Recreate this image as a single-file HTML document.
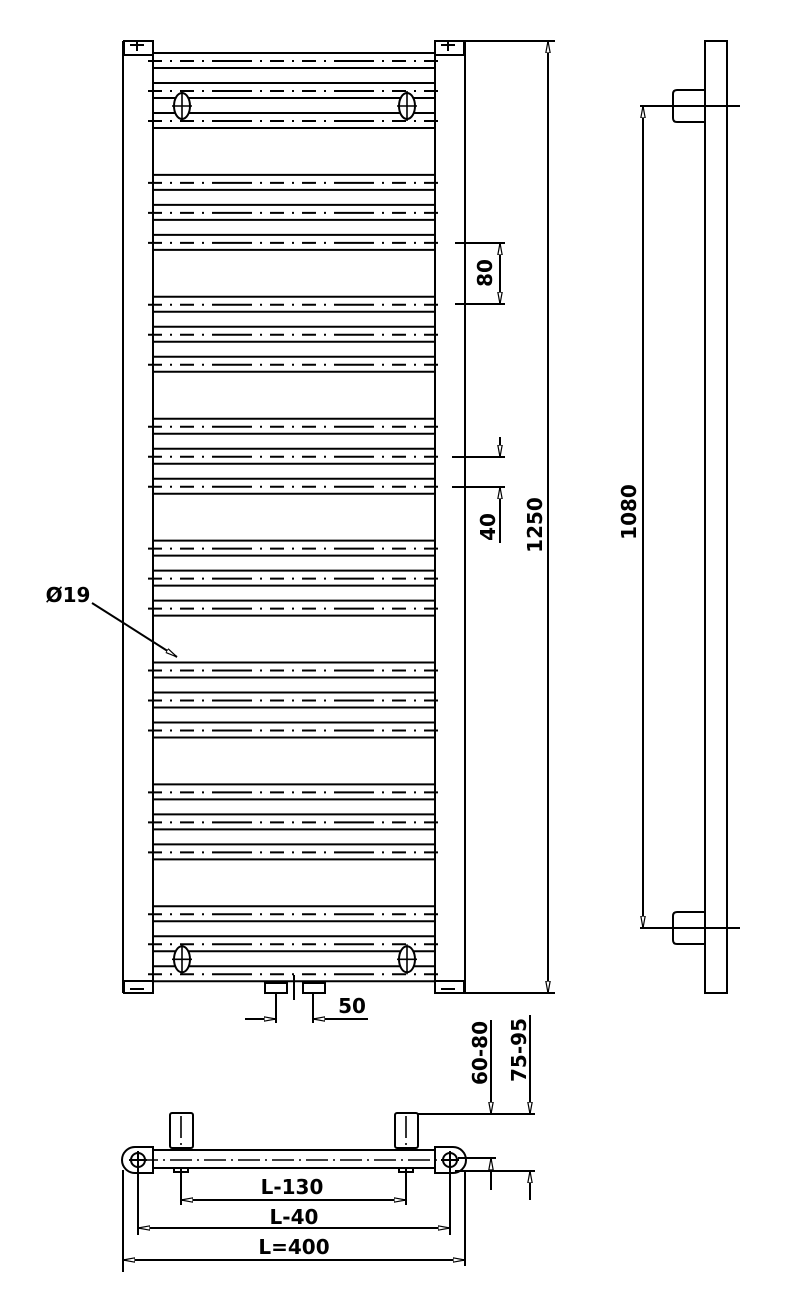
<!DOCTYPE html>
<html><head><meta charset="utf-8"><style>
html,body{margin:0;padding:0;background:#fff;width:809px;height:1297px;overflow:hidden}
svg text{font-family:"DejaVu Sans","Liberation Sans",sans-serif;font-weight:bold;font-size:20px;fill:#000}
</style></head><body>
<svg id="s" width="809" height="1297" viewBox="0 0 809 1297" xmlns="http://www.w3.org/2000/svg">
<defs>
<marker id="a" viewBox="0 0 12 6" refX="12" refY="3" markerWidth="12" markerHeight="6" orient="auto-start-reverse" markerUnits="userSpaceOnUse"><path d="M0,0.8 L12,3 L0,5.2 Z" fill="#fff" stroke="#000" stroke-width="1.2"/></marker>
</defs>
<g id="g" stroke="#000" stroke-width="2" fill="none">
<line x1="123" y1="41" x2="123" y2="993"/>
<line x1="153" y1="41" x2="153" y2="993"/>
<line x1="435" y1="41" x2="435" y2="993"/>
<line x1="465" y1="41" x2="465" y2="993"/>
<rect x="124" y="41" width="29" height="14"/><rect x="435" y="41" width="29" height="14"/>
<rect x="124" y="981" width="29" height="12"/><rect x="435" y="981" width="29" height="12"/>
<path d="M130,45 h14 M137,41 v10 M441,45 h14 M448,41 v10 M130,989 h14 M441,989 h14"/>
<line x1="465" y1="41" x2="555" y2="41"/>
<line x1="465" y1="993" x2="555" y2="993"/>
<line x1="548" y1="41" x2="548" y2="993" marker-start="url(#a)" marker-end="url(#a)"/>
<line x1="455" y1="243" x2="505" y2="243"/>
<line x1="455" y1="304" x2="505" y2="304"/>
<line x1="500" y1="243" x2="500" y2="304" marker-start="url(#a)" marker-end="url(#a)"/>
<line x1="452" y1="457" x2="505" y2="457"/>
<line x1="452" y1="487" x2="505" y2="487"/>
<line x1="500" y1="437" x2="500" y2="457" marker-end="url(#a)"/>
<line x1="500" y1="543" x2="500" y2="487" marker-end="url(#a)"/>
<line x1="92" y1="603" x2="177" y2="657" marker-end="url(#a)"/>
<rect x="265" y="983" width="22" height="10"/><rect x="303" y="983" width="22" height="10"/>
<line x1="294" y1="975" x2="294" y2="1000"/>
<line x1="276" y1="993" x2="276" y2="1023"/>
<line x1="313" y1="993" x2="313" y2="1023"/>
<line x1="245" y1="1019" x2="276" y2="1019" marker-end="url(#a)"/>
<line x1="368" y1="1019" x2="313" y2="1019" marker-end="url(#a)"/>
<rect x="705" y="41" width="22" height="952"/>
<path d="M705,90 h-28 q-4,0 -4,4 v24 q0,4 4,4 h28"/>
<path d="M705,912 h-28 q-4,0 -4,4 v24 q0,4 4,4 h28"/>
<line x1="640" y1="106" x2="740" y2="106"/>
<line x1="640" y1="928" x2="740" y2="928"/>
<line x1="643" y1="106" x2="643" y2="928" marker-start="url(#a)" marker-end="url(#a)"/>
<rect x="153" y="1150" width="282" height="18"/>
<path d="M153,1147 h-18 a13,13 0 0 0 0,26 h18 Z"/>
<path d="M435,1147 h18 a13,13 0 0 1 0,26 h-18 Z"/>
<circle cx="138" cy="1160" r="7"/><circle cx="450" cy="1160" r="7"/>
<path d="M129,1160 h18 M138,1151 v18 M441,1160 h18 M450,1151 v18"/>
<rect x="170" y="1113" width="23" height="35" rx="2"/><rect x="395" y="1113" width="23" height="35" rx="2"/>
<path d="M174,1168 v4 h14 v-4 M399,1168 v4 h14 v-4"/>
<line x1="181" y1="1168" x2="181" y2="1205"/><line x1="406" y1="1168" x2="406" y2="1205"/>
<line x1="138" y1="1168" x2="138" y2="1235"/><line x1="450" y1="1168" x2="450" y2="1235"/>
<line x1="123" y1="1170" x2="123" y2="1272"/><line x1="465" y1="1170" x2="465" y2="1266"/>
<line x1="181" y1="1200" x2="406" y2="1200" marker-start="url(#a)" marker-end="url(#a)"/>
<line x1="138" y1="1228" x2="450" y2="1228" marker-start="url(#a)" marker-end="url(#a)"/>
<line x1="123" y1="1260" x2="465" y2="1260" marker-start="url(#a)" marker-end="url(#a)"/>
<line x1="418" y1="1114" x2="535" y2="1114"/>
<line x1="455" y1="1171" x2="535" y2="1171"/>
<line x1="458" y1="1158" x2="496" y2="1158"/>
<line x1="491" y1="1020" x2="491" y2="1114" marker-end="url(#a)"/>
<line x1="491" y1="1190" x2="491" y2="1158" marker-end="url(#a)"/>
<line x1="530" y1="1015" x2="530" y2="1114" marker-end="url(#a)"/>
<line x1="530" y1="1200" x2="530" y2="1171" marker-end="url(#a)"/>
</g>
<g stroke="#000" stroke-width="1.6" stroke-dasharray="22,5,2,5" fill="none">
<line x1="136" y1="1160" x2="452" y2="1160"/>
<line x1="181" y1="1116" x2="181" y2="1145"/><line x1="406" y1="1116" x2="406" y2="1145"/>
</g>
<g id="rails"></g>
<text x="68" y="602" text-anchor="middle">Ø19</text>
<text x="352" y="1013" text-anchor="middle">50</text>
<text transform="translate(492,273) rotate(-90)" text-anchor="middle">80</text>
<text transform="translate(495,527) rotate(-90)" text-anchor="middle">40</text>
<text transform="translate(542,525) rotate(-90)" text-anchor="middle">1250</text>
<text transform="translate(636,512) rotate(-90)" text-anchor="middle">1080</text>
<text transform="translate(487,1053) rotate(-90)" text-anchor="middle">60-80</text>
<text transform="translate(526,1050) rotate(-90)" text-anchor="middle">75-95</text>
<text x="292" y="1194" text-anchor="middle">L-130</text>
<text x="294" y="1224" text-anchor="middle">L-40</text>
<text x="294" y="1254" text-anchor="middle">L=400</text>
</svg>
<script>
var g=document.getElementById('rails'),h='';
for(var k=0;k<8;k++){
 var y0=53+k*121.9;
 for(var r=0;r<3;r++){
  var a=y0+r*30;
  h+='<line x1="153" y1="'+a+'" x2="435" y2="'+a+'" stroke="#000" stroke-width="2"/>';
  h+='<line x1="153" y1="'+(a+15)+'" x2="435" y2="'+(a+15)+'" stroke="#000" stroke-width="2"/>';
  h+='<line x1="148" y1="'+(a+8)+'" x2="441" y2="'+(a+8)+'" stroke="#000" stroke-width="2" stroke-dasharray="14,8,2,8,14,8,2,8,40,8,2,8"/>';
 }
 if(k==0||k==7){
  var cy=y0+53;
  [182,407].forEach(function(cx){
   h+='<ellipse cx="'+cx+'" cy="'+cy+'" rx="8" ry="13" fill="#fff" stroke="#000" stroke-width="2"/>';
   h+='<line x1="'+(cx-10)+'" y1="'+cy+'" x2="'+(cx+10)+'" y2="'+cy+'" stroke="#000" stroke-width="1.6"/>';
   h+='<line x1="'+cx+'" y1="'+(cy-15)+'" x2="'+cx+'" y2="'+(cy+15)+'" stroke="#000" stroke-width="1.6"/>';
  });
 }
}
g.innerHTML=h;
</script>
</body></html>
